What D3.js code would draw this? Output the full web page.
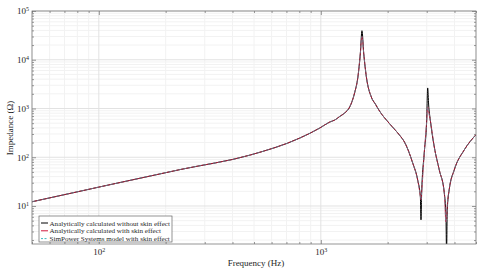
<!DOCTYPE html>
<html>
<head>
<meta charset="utf-8">
<script src="https://cdn.jsdelivr.net/npm/d3@7"></script>
<style>
    body { margin: 0; background: #fff; }
    text { font-family: "Liberation Serif", "DejaVu Serif", serif; fill: #262626; }
</style>
</head>
<body>
<div id="chart"></div>
<script>
// frequencies (Hz)
const freqs = [50, 100, 233, 481, 805, 990, 1097, 1156, 1216, 1281, 1349, 1420, 1469, 1507, 1532, 1560, 1604, 1688, 1760, 1840,
    2038, 2259, 2381, 2594, 2731, 2808, 2826, 2845, 2923, 2998, 3029, 3060, 3113, 3244, 3417, 3599,
    3662, 3684, 3710, 3785, 3989, 4425, 5000];

// impedance (ohm), analytically calculated without skin effect
const zNoSkin = [12.2, 24.4, 56, 111, 248, 398, 528, 580, 686, 809, 1074, 2100, 4430, 13700, 39400, 13700, 4430, 1720, 1236, 880,
    490, 286, 205, 76, 34, 15.3, 5.2, 18, 122, 580, 2640, 1180, 580, 162, 54.7, 18.5,
    6, 1.0, 8, 21.3, 54.7, 141, 290];

// impedance (ohm), analytically calculated with skin effect
const zSkin = [12.2, 24.4, 56, 111, 248, 398, 528, 580, 686, 809, 1074, 2100, 4430, 13700, 30000, 13700, 4430, 1720, 1236, 880,
    490, 286, 205, 76, 34, 16, 13.3, 19, 122, 540, 1075, 850, 570, 162, 54.7, 18.5,
    4.7, 5.5, 10, 21.3, 54.7, 141, 290];

// impedance (ohm), SimPower Systems model with skin effect
const zSimPower = [12.2, 24.4, 56, 111, 248, 398, 528, 580, 686, 809, 1074, 2100, 4430, 13700, 30000, 13700, 4430, 1720, 1236, 880,
    490, 286, 205, 76, 34, 16, 13.3, 19, 122, 540, 1075, 850, 570, 162, 54.7, 18.5,
    4.7, 5.5, 10, 21.3, 54.7, 141, 290];

const xMajorTicks = [100, 1000];
const yMajorTicks = [10, 100, 1000, 10000, 100000];
const legendLabels = [
    "Analytically calculated without skin effect",
    "Analytically calculated with skin effect",
    "SimPower Systems model with skin effect"
];

const width = 480, height = 271;
const margin = {left: 32, top: 11, right: 4, bottom: 27};
const plotW = width - margin.left - margin.right;
const plotH = height - margin.top - margin.bottom;

const svg = d3.select("#chart")
    .append("svg")
    .attr("width", width)
    .attr("height", height);

const g = svg.append("g")
    .attr("transform", "translate(" + margin.left + "," + margin.top + ")");

// scales
const x = d3.scaleLog().domain([50, 5000]).range([0, plotW]);
const y = d3.scaleLog().domain([1.66, 1e5]).range([plotH, 0]);

const xMinor = x.ticks().filter(d => xMajorTicks.indexOf(d) < 0);
const yMinor = y.ticks().filter(d => yMajorTicks.indexOf(d) < 0 && d >= 2);

// grid
g.append("g").selectAll("line")
    .data(xMinor).enter().append("line")
    .attr("x1", d => x(d)).attr("x2", d => x(d))
    .attr("y1", 0).attr("y2", plotH)
    .attr("stroke", "#f2f2f2");
g.append("g").selectAll("line")
    .data(yMinor).enter().append("line")
    .attr("y1", d => y(d)).attr("y2", d => y(d))
    .attr("x1", 0).attr("x2", plotW)
    .attr("stroke", "#f2f2f2");
g.append("g").selectAll("line")
    .data(xMajorTicks).enter().append("line")
    .attr("x1", d => x(d)).attr("x2", d => x(d))
    .attr("y1", 0).attr("y2", plotH)
    .attr("stroke", "#e2e2e2");
g.append("g").selectAll("line")
    .data(yMajorTicks).enter().append("line")
    .attr("y1", d => y(d)).attr("y2", d => y(d))
    .attr("x1", 0).attr("x2", plotW)
    .attr("stroke", "#e2e2e2");

// curves
g.append("clipPath").attr("id", "clip")
    .append("rect").attr("width", plotW).attr("height", plotH);

const line = d3.line()
    .x(d => x(d.f))
    .y(d => y(d.z))
    .curve(d3.curveMonotoneX);

const series = [
    {values: zNoSkin, color: "#000000", width: 1.0, dash: null},
    {values: zSkin, color: "#d0183c", width: 0.8, dash: null},
    {values: zSimPower, color: "#3cb8c0", width: 0.5, dash: "3,2"}
];

const curves = g.append("g").attr("clip-path", "url(#clip)");
series.forEach(function (s) {
    curves.append("path")
        .datum(freqs.map((f, i) => ({f: f, z: s.values[i]})))
        .attr("fill", "none")
        .attr("stroke", s.color)
        .attr("stroke-width", s.width)
        .attr("stroke-dasharray", s.dash)
        .attr("d", line);
});

// power-of-ten labels
function powLabel(sel) {
    sel.text(null);
    sel.each(function (d) {
        const t = d3.select(this);
        t.append("tspan").text("10");
        t.append("tspan")
            .attr("dy", "-0.5em")
            .attr("font-size", "6px")
            .text(Math.round(Math.log10(d)));
    });
}

function styleAxis(a) {
    a.select(".domain").remove();
    a.selectAll("line").attr("stroke", "#555").attr("stroke-width", 0.6);
    a.selectAll("text").attr("font-size", "9px").attr("font-family", "Liberation Serif, serif").attr("fill", "#262626");
}

// x axis (bottom, ticks inward)
const xAxis = g.append("g")
    .attr("transform", "translate(0," + plotH + ")")
    .call(d3.axisBottom(x).tickValues(xMajorTicks).tickSizeInner(-4).tickSizeOuter(0).tickPadding(5));
styleAxis(xAxis);
xAxis.selectAll("text").call(powLabel);

g.append("g")
    .attr("transform", "translate(0," + plotH + ")")
    .call(d3.axisBottom(x).tickValues(xMinor).tickSize(-2).tickFormat(""))
    .call(styleAxis);

// top mirrored ticks
g.append("g")
    .call(d3.axisTop(x).tickValues(xMajorTicks).tickSize(-4).tickFormat(""))
    .call(styleAxis);
g.append("g")
    .call(d3.axisTop(x).tickValues(xMinor).tickSize(-2).tickFormat(""))
    .call(styleAxis);

// y axis (left, ticks inward)
const yAxis = g.append("g")
    .call(d3.axisLeft(y).tickValues(yMajorTicks).tickSizeInner(-4).tickSizeOuter(0).tickPadding(3));
styleAxis(yAxis);
yAxis.selectAll("text").call(powLabel);

g.append("g")
    .call(d3.axisLeft(y).tickValues(yMinor).tickSize(-2).tickFormat(""))
    .call(styleAxis);

// right mirrored ticks
g.append("g")
    .attr("transform", "translate(" + plotW + ",0)")
    .call(d3.axisRight(y).tickValues(yMajorTicks).tickSize(-4).tickFormat(""))
    .call(styleAxis);
g.append("g")
    .attr("transform", "translate(" + plotW + ",0)")
    .call(d3.axisRight(y).tickValues(yMinor).tickSize(-2).tickFormat(""))
    .call(styleAxis);

// box
g.append("rect")
    .attr("width", plotW)
    .attr("height", plotH)
    .attr("fill", "none")
    .attr("stroke", "#7a7a7a")
    .attr("stroke-width", 0.8);

// axis titles
svg.append("text")
    .attr("x", margin.left + plotW / 2 + 2)
    .attr("y", 266)
    .attr("text-anchor", "middle")
    .attr("font-size", "9px")
    .text("Frequency (Hz)");

svg.append("text")
    .attr("transform", "translate(13," + (margin.top + 117) + ") rotate(-90)")
    .attr("text-anchor", "middle")
    .attr("font-size", "9px")
    .text("Impedance (\u03A9)");

// legend
const legend = svg.append("g").attr("transform", "translate(39,216)");
legend.append("rect")
    .attr("width", 133)
    .attr("height", 26)
    .attr("fill", "#fff")
    .attr("stroke", "#666")
    .attr("stroke-width", 0.7);

const rows = legend.selectAll("g.row")
    .data(legendLabels)
    .enter().append("g")
    .attr("class", "row")
    .attr("transform", (d, i) => "translate(0," + (7 + i * 7.8) + ")");

rows.append("line")
    .attr("x1", 2).attr("x2", 9)
    .attr("stroke", (d, i) => series[i].color)
    .attr("stroke-width", 1)
    .attr("stroke-dasharray", (d, i) => i === 2 ? "2,1.5" : null);

rows.append("text")
    .attr("x", 10.5)
    .attr("dy", "0.35em")
    .attr("font-size", "7.1px")
    .text(d => d);
</script>
</body>
</html>
